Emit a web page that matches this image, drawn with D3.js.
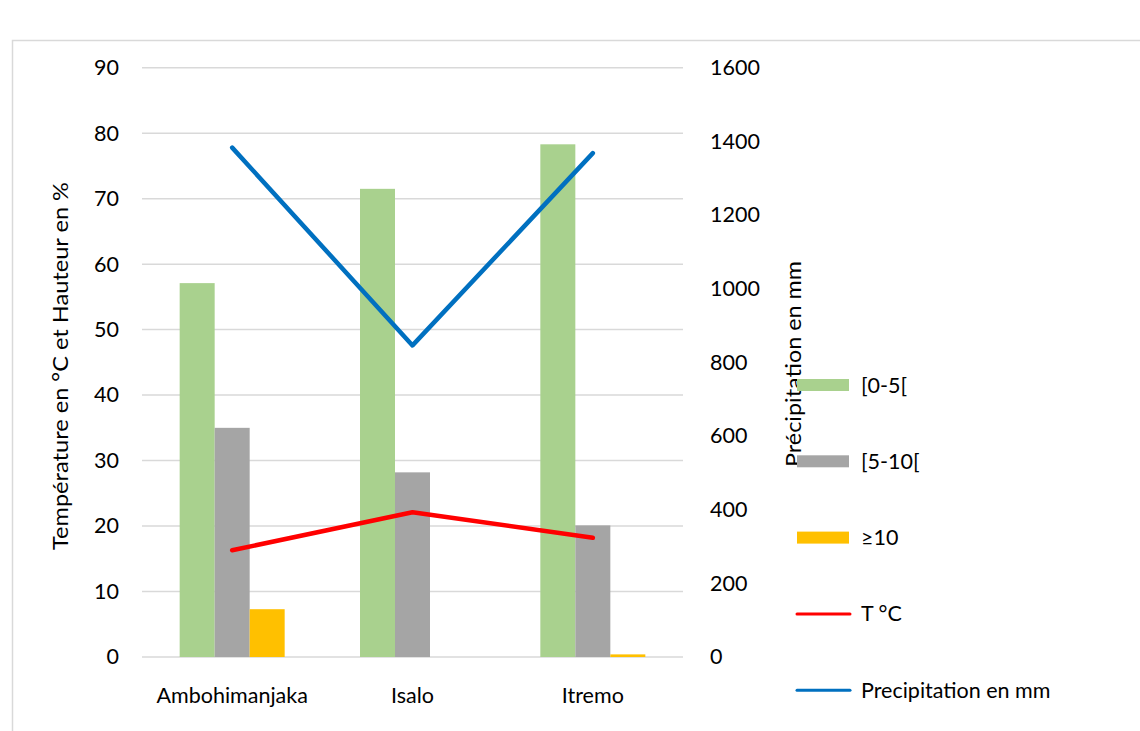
<!DOCTYPE html>
<html>
<head>
<meta charset="utf-8">
<script src="https://cdn.jsdelivr.net/npm/d3@7/dist/d3.min.js"></script>
<style>
  html, body { margin: 0; padding: 0; background: #fff; }
  svg { display: block; }
  text { font-family: Lato, "Open Sans", sans-serif; fill: #000; }
</style>
</head>
<body>
<svg id="chart" width="1140" height="731"></svg>
<script>
// Sites
const categories = ["Ambohimanjaka", "Isalo", "Itremo"];
// Height classes (%)
const h0_5 = [57.1, 71.5, 78.3];
const h5_10 = [35.0, 28.2, 20.1];
const h10 = [7.3, 0, 0.4];
// Mean temperature (°C)
const tempC = [16.3, 22.1, 18.2];
// Annual rainfall (mm)
const precip = [1383, 846, 1368];
// Axis ticks
const leftTicks = [0, 10, 20, 30, 40, 50, 60, 70, 80, 90];
const rightTicks = [0, 200, 400, 600, 800, 1000, 1200, 1400, 1600];

const barSeries = [
  { name: "[0-5[", values: h0_5, color: "#a9d18e" },
  { name: "[5-10[", values: h5_10, color: "#a5a5a5" },
  { name: "\u226510", values: h10, color: "#ffc000" }
];
const lineSeries = [
  { name: "T \u00b0C", values: tempC, color: "#ff0000", axis: "left" },
  { name: "Precipitation en mm", values: precip, color: "#0070c0", axis: "right" }
];

const FS = "21.5px";
const svg = d3.select("#chart");
const plot = { left: 142, right: 683, top: 67.7, bottom: 657 };

// Frame around the chart
svg.append("rect")
  .attr("x", 12.5).attr("y", 40.5)
  .attr("width", 1140).attr("height", 700)
  .attr("fill", "none").attr("stroke", "#d9d9d9").attr("stroke-width", 1.5);

const x = d3.scaleBand().domain(categories).range([plot.left, plot.right]).paddingInner(0).paddingOuter(0);
const yL = d3.scaleLinear().domain([0, 90]).range([plot.bottom, plot.top]);
const yR = d3.scaleLinear().domain([0, 1600]).range([plot.bottom, plot.top]);

// Gridlines
svg.append("g").selectAll("line").data(leftTicks).join("line")
  .attr("x1", plot.left).attr("x2", plot.right)
  .attr("y1", d => yL(d)).attr("y2", d => yL(d))
  .attr("stroke", "#d9d9d9").attr("stroke-width", 1.5);

// Left axis
const gL = svg.append("g").attr("transform", `translate(${plot.left},0)`)
  .call(d3.axisLeft(yL).tickValues(leftTicks).tickFormat(d3.format("d")).tickSize(0).tickPadding(23));
gL.select(".domain").remove();
gL.selectAll("text").style("font-size", FS).style("font-family", "Lato, sans-serif");

// Right axis
const gR = svg.append("g").attr("transform", `translate(${plot.right},0)`)
  .call(d3.axisRight(yR).tickValues(rightTicks).tickFormat(d3.format("d")).tickSize(0).tickPadding(27));
gR.select(".domain").remove();
gR.selectAll("text").style("font-size", FS).style("font-family", "Lato, sans-serif");

// Category axis
const gX = svg.append("g").attr("transform", `translate(0,${plot.bottom})`)
  .call(d3.axisBottom(x).tickSize(0).tickPadding(31));
gX.select(".domain").remove();
gX.selectAll("text").style("font-size", FS).style("font-family", "Lato, sans-serif");

// Grouped bars
const groupW = 105;
const xs = d3.scaleBand().domain(barSeries.map(s => s.name)).range([0, groupW]);
barSeries.forEach(s => {
  svg.append("g").selectAll("rect").data(s.values).join("rect")
    .attr("x", (d, i) => x(categories[i]) + (x.bandwidth() - groupW) / 2 + xs(s.name))
    .attr("width", xs.bandwidth())
    .attr("y", d => yL(d))
    .attr("height", d => yL(0) - yL(d))
    .attr("fill", s.color);
});

// Lines
lineSeries.forEach(s => {
  const yScale = s.axis === "left" ? yL : yR;
  const line = d3.line()
    .x((d, i) => x(categories[i]) + x.bandwidth() / 2)
    .y(d => yScale(d));
  svg.append("path").datum(s.values)
    .attr("d", line)
    .attr("fill", "none").attr("stroke", s.color)
    .attr("stroke-width", 4.5).attr("stroke-linecap", "round").attr("stroke-linejoin", "round");
});

// Axis titles
svg.append("text")
  .attr("transform", "translate(68,366) rotate(-90)")
  .attr("text-anchor", "middle")
  .attr("textLength", 368).attr("lengthAdjust", "spacingAndGlyphs")
  .style("font-size", "21.5px")
  .text("Température en °C et Hauteur en %");

svg.append("text")
  .attr("transform", "translate(801,364) rotate(-90)")
  .attr("text-anchor", "middle")
  .attr("textLength", 206).attr("lengthAdjust", "spacingAndGlyphs")
  .style("font-size", "21.5px")
  .text("Précipitation en mm");

// Legend
const legendItems = [...barSeries.map(s => ({ ...s, type: "bar" })), ...lineSeries.map(s => ({ ...s, type: "line" }))];
const lg = svg.append("g");
legendItems.forEach((s, i) => {
  const cy = 385 + i * 76.3;
  if (s.type === "bar") {
    lg.append("rect").attr("x", 797).attr("y", cy - 6).attr("width", 52).attr("height", 12).attr("fill", s.color);
  } else {
    lg.append("line").attr("x1", 797).attr("x2", 850).attr("y1", cy).attr("y2", cy)
      .attr("stroke", s.color).attr("stroke-width", 3).attr("stroke-linecap", "round");
  }
  lg.append("text").attr("x", 861).attr("y", cy).attr("dy", "0.35em")
    .style("font-size", FS).text(s.name);
});
</script>
</body>
</html>
